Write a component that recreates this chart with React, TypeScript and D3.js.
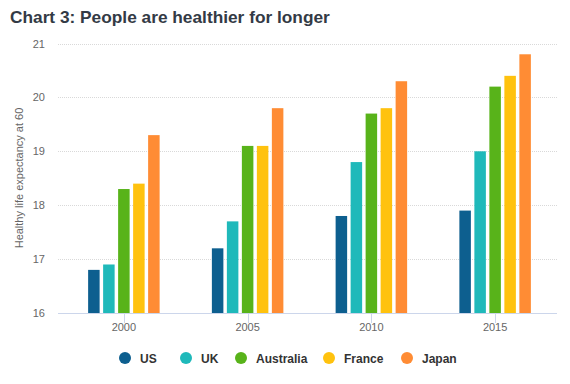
import React, {useEffect, useRef} from 'react';
import * as d3 from 'd3';

const years = ['2000', '2005', '2010', '2015'];
const countries = ['US', 'UK', 'Australia', 'France', 'Japan'];
const colors = ['#0d5f8f', '#1fb9ba', '#58b31a', '#ffc20e', '#ff8c34'];
const usValues = [16.8, 17.2, 17.8, 17.9];
const ukValues = [16.9, 17.7, 18.8, 19.0];
const australiaValues = [18.3, 19.1, 19.7, 20.2];
const franceValues = [18.4, 19.1, 19.8, 20.4];
const japanValues = [19.3, 19.8, 20.3, 20.8];
const yTicks = [16, 17, 18, 19, 20, 21];

const seriesValues = [usValues, ukValues, australiaValues, franceValues, japanValues];

const App = () => {
  const ref = useRef<SVGSVGElement>(null);

  useEffect(() => {
    const svg = d3.select(ref.current);
    svg.selectAll('*').remove();
    const font = '"Liberation Sans", Arial, sans-serif';

    const x0 = d3.scaleBand().domain(years).range([62, 557]).padding(0);
    const groupW = 71.5;
    const x1 = d3.scaleBand()
        .domain(countries)
        .range([(x0.bandwidth() - groupW) / 2, (x0.bandwidth() + groupW) / 2])
        .paddingInner(0.233);
    const y = d3.scaleLinear().domain([16, 21]).range([313, 43.5]);

    svg.append('text')
        .attr('x', 10)
        .attr('y', 23)
        .text('Chart 3: People are healthier for longer')
        .style('font-family', font)
        .style('font-size', '17.3px')
        .style('font-weight', 'bold')
        .style('fill', '#333a45');

    // gridlines
    svg.append('g')
        .selectAll('line')
        .data(yTicks.slice(1))
        .enter().append('line')
        .attr('x1', 58)
        .attr('x2', 557)
        .attr('y1', d => Math.round(y(d)) + 0.5)
        .attr('y2', d => Math.round(y(d)) + 0.5)
        .attr('stroke', '#d9d9d9')
        .attr('stroke-dasharray', '1,1');

    svg.append('g')
        .selectAll('text')
        .data(yTicks)
        .enter().append('text')
        .attr('x', 45)
        .attr('y', d => y(d) + 4)
        .attr('text-anchor', 'end')
        .text(d => d)
        .style('font-family', font)
        .style('font-size', '11px')
        .style('fill', '#666666');

    svg.append('text')
        .attr('transform', 'translate(23,178) rotate(-90)')
        .attr('text-anchor', 'middle')
        .text('Healthy life expectancy at 60')
        .style('font-family', font)
        .style('font-size', '11px')
        .style('fill', '#666666');

    // bars
    const groups = svg.append('g')
        .selectAll('g')
        .data(years)
        .enter().append('g')
        .attr('transform', d => `translate(${x0(d)},0)`);

    groups.selectAll('rect')
        .data((d, i) => countries.map((c, j) => ({c, v: seriesValues[j][i], color: colors[j]})))
        .enter().append('rect')
        .attr('x', d => x1(d.c)!)
        .attr('y', d => y(d.v))
        .attr('width', x1.bandwidth())
        .attr('height', d => y(16) - y(d.v))
        .attr('fill', d => d.color);

    // x axis
    svg.append('line')
        .attr('x1', 58)
        .attr('x2', 557)
        .attr('y1', 313.5)
        .attr('y2', 313.5)
        .attr('stroke', '#ccd6eb');

    svg.append('g')
        .selectAll('line')
        .data(years)
        .enter().append('line')
        .attr('x1', d => Math.round(x0(d)! + x0.bandwidth() / 2) + 0.5)
        .attr('x2', d => Math.round(x0(d)! + x0.bandwidth() / 2) + 0.5)
        .attr('y1', 313)
        .attr('y2', 323)
        .attr('stroke', '#ccd6eb');

    svg.append('g')
        .selectAll('text')
        .data(years)
        .enter().append('text')
        .attr('x', d => x0(d)! + x0.bandwidth() / 2)
        .attr('y', 331)
        .attr('text-anchor', 'middle')
        .text(d => d)
        .style('font-family', font)
        .style('font-size', '11px')
        .style('fill', '#666666');

    // legend
    const legendX = [125, 186, 241, 329, 407];
    const legend = svg.append('g')
        .selectAll('g')
        .data(countries)
        .enter().append('g')
        .attr('transform', (d, i) => `translate(${legendX[i]},358)`);

    legend.append('circle')
        .attr('r', 6)
        .attr('fill', (d, i) => colors[i]);

    legend.append('text')
        .attr('x', 15)
        .attr('y', 4.5)
        .text(d => d)
        .style('font-family', font)
        .style('font-size', '12px')
        .style('font-weight', 'bold')
        .style('fill', '#333333');
  }, []);

  return <svg ref={ref} width={570} height={384} style={{position: 'absolute', left: 0, top: 0}}></svg>;
};

export default App;
